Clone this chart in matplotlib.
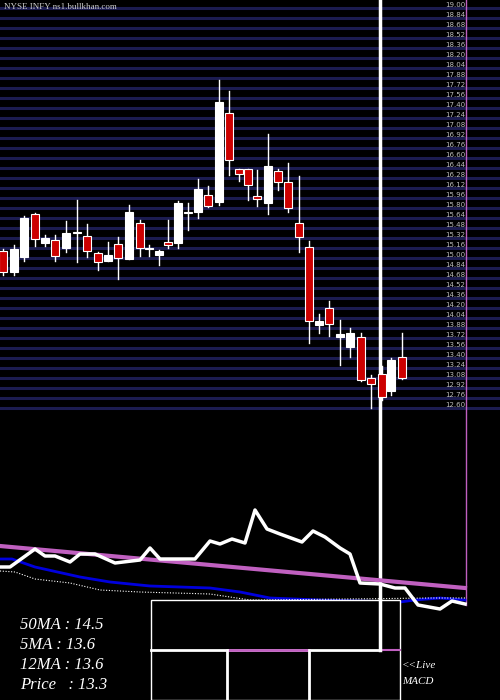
import matplotlib
matplotlib.use("Agg")
import matplotlib.pyplot as plt
from matplotlib.patches import Rectangle

# candle data (chart units, y grows downward as in source scale)
cx = [3,14,24,35,45,55,66,77,87,98,108,118,129,140,149,159,168,178,188,198,208,219,229,239,248,257,268,278,288,299,309,319,329,340,350,361,371,382,391,402]
opens = [251,272,257,214,243,240,248,232,236,253,261,244,259,223,249,255,242,243,212,212,195,202,113,169,169,196,203,171,182,223,247,325,308,337,347,337,378,374,391,357]
closes= [272,249,218,239,238,256,233,233,251,262,255,258,212,248,248,251,245,203,213,189,206,102,160,174,185,199,166,182,208,237,321,321,324,334,333,380,384,397,360,378]
highs = [249,245,216,213,235,235,221,200,224,252,242,237,205,220,245,250,220,201,203,179,186,80,91,169,169,170,134,169,163,176,241,314,301,320,328,333,375,366,358,333]
lows  = [275,275,261,246,246,261,252,262,257,270,261,279,259,256,256,265,248,248,230,218,207,205,175,181,200,206,214,190,212,252,343,333,336,365,357,381,408,400,395,379]

ind_x = [0,10,35,45,55,70,80,95,115,140,150,160,195,210,220,232,245,255,267,280,302,313,325,340,350,360,380,395,405,418,440,452,465]
ind_w = [567,567,549,556,556,562,554,554,563,560,548,559,559,541,544,539,543,510,529,534,542,531,537,548,554,583,584,588,588,605,609,601,604]
ma_x = [0,465]; ma_y = [546,588]
blue_x = [0,12,35,80,110,150,210,240,270,320,400,415,440,465]
blue_y = [559,559,567,577,582,586,588,592,598,600,602,600,598,600]
dot_x = [0,15,35,70,100,140,210,250,265,430,465]
dot_y = [571,572,579,583,590,592,594,600,600,598,598]

labels = ["50MA : 14.5", "5MA : 13.6", "12MA : 13.6", "Price   : 13.3"]

fig = plt.figure(figsize=(5, 7), dpi=100, facecolor="black")
ax = fig.add_axes([0, 0, 1, 1])
ax.set_facecolor("black")
ax.set_xlim(0, 500); ax.set_ylim(700, 0); ax.axis("off")

for y in range(8, 410, 10):
    ax.plot([0, 500], [y, y], color="#1c1c50", lw=2.2, zorder=1)
for i, y in enumerate(range(8, 410, 10)):
    ax.text(455, y - 3, f"{19.0 - i*0.16:.2f}", color="#bbbbbb", fontsize=5, ha="center", va="center", zorder=2)

ax.plot([466, 466], [0, 605], color="#c060c0", lw=1, zorder=3)
ax.plot([380, 380], [0, 650], color="white", lw=2.5, zorder=3)

for x, o, c, h, l in zip(cx, opens, closes, highs, lows):
    ax.plot([x, x], [h, l], color="white", lw=1, zorder=4)
    red = c > o
    top = min(o, c); hgt = max(abs(c - o), 1.2)
    ax.add_patch(Rectangle((x - 3.7, top), 7.4, hgt, facecolor="#cc0000" if red else "white",
                           edgecolor="white", lw=0.8, zorder=5))

ax.plot(ma_x, ma_y, color="#c060c0", lw=3, zorder=3)
ax.plot(blue_x, blue_y, color="#0000dd", lw=2, zorder=3)
ax.plot(dot_x, dot_y, color="white", lw=0.8, ls=(0, (1, 1.5)), zorder=3)
ax.plot(ind_x, ind_w, color="white", lw=2.5, zorder=4)

ax.add_patch(Rectangle((151, 600), 249, 100, facecolor="black", edgecolor="white", lw=1, zorder=6))
ax.plot([151, 380], [650, 650], color="white", lw=2, zorder=7)
ax.plot([227, 309], [650, 650], color="#c060c0", lw=2, zorder=7)
ax.plot([380, 400], [650, 650], color="#c060c0", lw=1.5, zorder=7)
ax.plot([227, 227], [650, 700], color="white", lw=2, zorder=7)
ax.plot([309, 309], [650, 700], color="white", lw=2, zorder=7)
ax.plot([380, 380], [600, 650], color="white", lw=2.5, zorder=7)

for i, t in enumerate(labels):
    ax.text(20, 625 + i * 20, t, color="white", fontsize=12, family="Liberation Serif",
            style="italic", va="center", zorder=8)
ax.text(402, 666, "<<Live", color="white", fontsize=8, family="Liberation Serif", style="italic", va="center")
ax.text(402, 681, "MACD", color="white", fontsize=8, family="Liberation Serif", style="italic", va="center")
ax.text(4, 7, "NYSE INFY ns1.bullkhan.com", color="#cccccc", fontsize=6.5, family="Liberation Serif", va="center")

fig.savefig("out.png", dpi=100, facecolor="black")
